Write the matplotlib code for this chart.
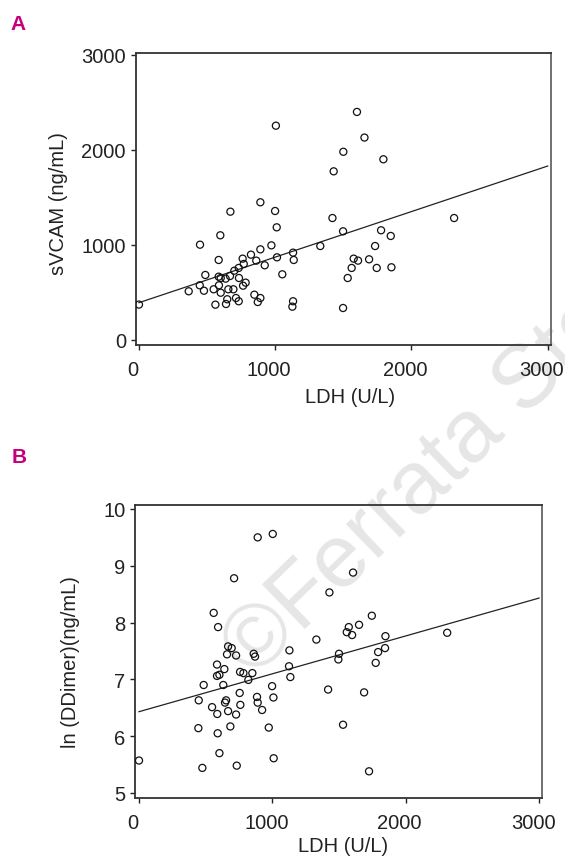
import matplotlib
matplotlib.use("Agg")
import matplotlib.pyplot as plt
import matplotlib.transforms as mtransforms
import numpy as np

# ---------------- data ----------------
# Panel A: LDH (U/L) vs sVCAM (ng/mL)
ldh_a = [0, 1600, 1005, 1655, 1500, 1794, 1429, 891, 999, 671, 1420, 2313, 1011, 1498,
         1777, 1848, 597, 448, 972, 891, 1331, 1733, 1131, 822, 1013, 585, 761, 861,
         1136, 1576, 1608, 1689, 769, 923, 732, 700, 1561, 1745, 1853, 487, 1052, 668,
         585, 600, 636, 734, 1532, 446, 587, 783, 764, 365, 477, 548, 600, 656, 693,
         847, 891, 648, 712, 732, 872, 1131, 1126, 561, 639, 1498]
svcam = [370, 2400, 2255, 2130, 1980, 1901, 1774, 1448, 1356, 1349, 1282, 1282, 1184, 1142,
         1153, 1093, 1100, 1001, 994, 952, 987, 987, 917, 896, 868, 840, 854, 833,
         840, 854, 833, 847, 798, 784, 756, 727, 756, 756, 763, 682, 689, 671,
         664, 650, 643, 650, 650, 573, 573, 601, 569, 510, 516, 531, 495, 531, 531,
         474, 439, 426, 439, 405, 397, 405, 348, 369, 376, 334]
fit_a_intercept = 390
fit_a_slope = 0.48

# Panel B: LDH (U/L) vs ln(DDimer)
ldh_b = [0, 1003, 890, 713, 1605, 1428, 560, 1746, 593, 1573, 1650, 1558, 1598, 2311,
         1848, 1330, 668, 695, 660, 728, 860, 870, 1128, 1845, 1500, 1495, 1793, 1775,
         585, 640, 758, 783, 850, 585, 603, 1125, 820, 1135, 485, 632, 998, 1418, 755,
         1688, 448, 653, 645, 885, 890, 1008, 760, 548, 668, 923, 587, 728, 445, 685,
         973, 1530, 590, 603, 1010, 475, 733, 1725]
lnddimer = [5.57, 9.56, 9.50, 8.78, 8.88, 8.53, 8.17, 8.12, 7.92, 7.92, 7.96, 7.83, 7.78, 7.82,
            7.76, 7.70, 7.58, 7.55, 7.44, 7.42, 7.45, 7.40, 7.51, 7.55, 7.45, 7.35, 7.48, 7.29,
            7.26, 7.18, 7.13, 7.11, 7.11, 7.06, 7.08, 7.23, 6.99, 7.04, 6.90, 6.90, 6.88, 6.82, 6.76,
            6.77, 6.63, 6.63, 6.59, 6.69, 6.59, 6.68, 6.55, 6.51, 6.44, 6.46, 6.39, 6.38, 6.14, 6.17,
            6.15, 6.20, 6.05, 5.70, 5.61, 5.44, 5.48, 5.38]
fit_b_intercept = 6.43
fit_b_slope = 0.000667

fit_x_range = [0, 3000]
x_ticks = [0, 1000, 2000, 3000]
y_ticks_a = [0, 1000, 2000, 3000]
y_ticks_b = [5, 6, 7, 8, 9, 10]

# ---------------- style ----------------
FONT = ["Liberation Sans", "DejaVu Sans"]
plt.rcParams["font.family"] = FONT
TICK_FS = 14.5
LABEL_FS = 14.5
MAGENTA = "#C4007C"
INK = "#222222"

fig = plt.figure(figsize=(5.65, 8.62), dpi=100)

# watermark (behind the axes)
fig.text(253 / 565, 1 - 679 / 862, "\u00a9Ferrata Storti", fontsize=64,
         color="#e6e6e6", rotation=44, rotation_mode="anchor",
         ha="left", va="baseline", zorder=-1)

def style_axes(ax, xlim, ylim, yticks):
    ax.set_facecolor("none")
    ax.set_xlim(*xlim)
    ax.set_ylim(*ylim)
    ax.set_xticks(x_ticks)
    ax.set_yticks(yticks)
    ax.tick_params(direction="out", length=3.6, width=1.0, color=INK,
                   labelsize=TICK_FS, labelcolor=INK)
    ax.tick_params(axis="x", pad=7.2)
    ax.tick_params(axis="y", pad=3.4)
    shift = mtransforms.ScaledTranslation(-6 / 100, 0, fig.dpi_scale_trans)
    for lab in ax.get_xticklabels():
        lab.set_transform(lab.get_transform() + shift)
    for s in ax.spines.values():
        s.set_linewidth(1.3)
        s.set_color("#333333")
    ax.spines["right"].set_color("#666666")

fx = np.array(fit_x_range)

# Panel A
axA = fig.add_axes([135.7 / 565, 1 - 346 / 862, (550.7 - 135.7) / 565, (346 - 54) / 862])
axA.scatter(ldh_a, svcam, s=26, facecolors="none", edgecolors="#111111", linewidths=0.9, zorder=3)
axA.plot(fx, fit_a_intercept + fit_a_slope * fx, color=INK, lw=0.9, zorder=2)
style_axes(axA, (-24, 3022), (-56, 3021), y_ticks_a)
axA.set_xlabel("LDH (U/L)", fontsize=LABEL_FS, color=INK)
axA.set_ylabel("sVCAM (ng/mL)", fontsize=LABEL_FS, color=INK)
axA.xaxis.set_label_coords(0.5176, -0.144)
axA.yaxis.set_label_coords(-0.163, 0.488)

# Panel B
axB = fig.add_axes([135 / 565, 1 - 799 / 862, (542 - 135) / 565, (799 - 506) / 862])
axB.scatter(ldh_b, lnddimer, s=26, facecolors="none", edgecolors="#111111", linewidths=0.9, zorder=3)
axB.plot(fx, fit_b_intercept + fit_b_slope * fx, color=INK, lw=0.9, zorder=2)
style_axes(axB, (-30, 3022), (4.91, 10.07), y_ticks_b)
axB.set_xlabel("LDH (U/L)", fontsize=LABEL_FS, color=INK)
axB.set_ylabel("ln (DDimer)(ng/mL)", fontsize=LABEL_FS, color=INK)
axB.xaxis.set_label_coords(0.512, -0.131)
axB.yaxis.set_label_coords(-0.135, 0.469)

# panel letters
fig.text(10 / 565, 1 - 30 / 862, "A", fontsize=15, fontweight="bold", color=MAGENTA,
         ha="left", va="baseline")
fig.text(12 / 565, 1 - 463 / 862, "B", fontsize=15, fontweight="bold", color=MAGENTA,
         ha="left", va="baseline")

fig.savefig("out.png", dpi=100)
